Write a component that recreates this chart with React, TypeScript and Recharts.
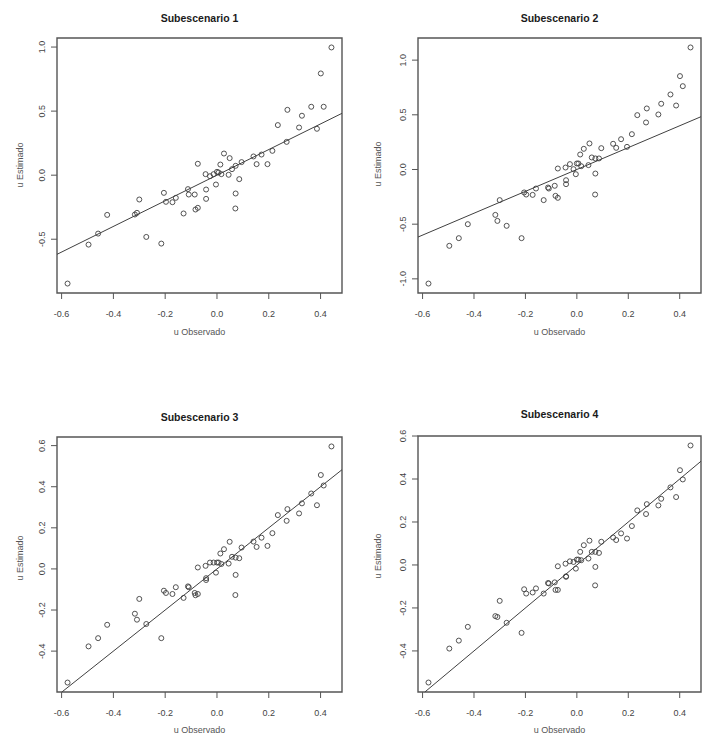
import { ReferenceArea, ReferenceLine, Scatter, ScatterChart, XAxis, YAxis } from 'recharts'

// observed values (shared by all four subscenarios)
const observado = [
  -0.577, -0.496, -0.459, -0.424, -0.317, -0.309, -0.3, -0.273, -0.215, -0.205,
  -0.197, -0.172, -0.159, -0.129, -0.112, -0.109, -0.086, -0.083, -0.074, -0.074,
  -0.042, -0.042, -0.044, -0.027, -0.013, -0.004, 0.0, 0.006, 0.013, 0.017,
  0.027, 0.045, 0.049, 0.058, 0.072, 0.072, 0.071, 0.086, 0.095, 0.141,
  0.153, 0.172, 0.195, 0.214, 0.235, 0.269, 0.272, 0.317, 0.328, 0.364,
  0.386, 0.401, 0.412, 0.442,
]

const estimado1 = [
  -0.846, -0.542, -0.456, -0.31, -0.307, -0.294, -0.19, -0.482, -0.534, -0.138,
  -0.208, -0.211, -0.177, -0.299, -0.109, -0.151, -0.151, -0.268, -0.255, 0.089,
  -0.112, -0.185, 0.008, -0.008, 0.008, -0.073, 0.026, 0.021, 0.083, 0.008,
  0.169, 0.003, 0.133, 0.047, 0.073, -0.143, -0.26, -0.031, 0.102, 0.146,
  0.086, 0.161, 0.086, 0.19, 0.391, 0.26, 0.51, 0.372, 0.464, 0.534,
  0.362, 0.794, 0.534, 0.997,
]

const estimado2 = [
  -1.043, -0.698, -0.628, -0.5, -0.415, -0.47, -0.28, -0.515, -0.628, -0.21,
  -0.229, -0.232, -0.174, -0.28, -0.165, -0.174, -0.149, -0.241, -0.259, 0.009,
  -0.098, -0.134, 0.018, 0.049, 0.003, -0.043, 0.055, 0.055, 0.137, 0.03,
  0.189, 0.04, 0.238, 0.11, 0.101, -0.037, -0.229, 0.101, 0.195, 0.235,
  0.198, 0.277, 0.207, 0.323, 0.497, 0.43, 0.558, 0.503, 0.601, 0.686,
  0.585, 0.854, 0.762, 1.116,
]

const estimado3 = [
  -0.553, -0.377, -0.337, -0.272, -0.218, -0.247, -0.146, -0.268, -0.337, -0.106,
  -0.117, -0.122, -0.089, -0.141, -0.085, -0.089, -0.117, -0.128, -0.122, 0.007,
  -0.054, -0.045, 0.015, 0.031, 0.031, -0.018, 0.031, 0.031, 0.075, 0.024,
  0.096, 0.026, 0.132, 0.059, 0.055, -0.029, -0.127, 0.052, 0.104, 0.133,
  0.107, 0.152, 0.112, 0.174, 0.262, 0.234, 0.291, 0.27, 0.319, 0.367,
  0.31, 0.457, 0.406, 0.596,
]

const estimado4 = [
  -0.547, -0.389, -0.352, -0.288, -0.238, -0.242, -0.167, -0.269, -0.316, -0.113,
  -0.133, -0.128, -0.109, -0.133, -0.084, -0.086, -0.081, -0.116, -0.116, -0.006,
  -0.053, -0.055, 0.006, 0.017, 0.014, -0.017, 0.025, 0.025, 0.061, 0.022,
  0.092, 0.03, 0.113, 0.061, 0.061, -0.009, -0.095, 0.056, 0.108, 0.128,
  0.116, 0.147, 0.123, 0.181, 0.254, 0.237, 0.283, 0.277, 0.308, 0.361,
  0.316, 0.441, 0.398, 0.556,
]

const xTicks = [-0.6, -0.4, -0.2, 0.0, 0.2, 0.4]
const yTicks1 = [-0.5, 0.0, 0.5, 1.0]
const yTicks2 = [-1.0, -0.5, 0.0, 0.5, 1.0]
const yTicks34 = [-0.4, -0.2, 0.0, 0.2, 0.4, 0.6]

const titles = ['Subescenario 1', 'Subescenario 2', 'Subescenario 3', 'Subescenario 4']
const xLabel = 'u Observado'
const yLabel = 'u Estimado'

const FONT = '"Liberation Sans", Arial, Helvetica, sans-serif'
const INK = '#404040'

// R-style range: data extent padded by 4% on each side
function padRange(vals: number[]): [number, number] {
  const lo = Math.min(...vals)
  const hi = Math.max(...vals)
  const d = (hi - lo) * 0.04
  return [lo - d, hi + d]
}

const fmt = (v: number) => v.toFixed(1)

function YTick(props: any) {
  const { x, y, payload } = props
  return (
    <text x={x} y={y} transform={`rotate(-90 ${x} ${y})`} textAnchor="middle" fontSize={9} fill="#444" fontFamily={FONT}>
      {fmt(payload.value)}
    </text>
  )
}

function Dot(props: any) {
  return <circle cx={props.cx} cy={props.cy} r={2.5} fill="none" stroke={INK} strokeWidth={0.9} />
}

type PanelProps = {
  left: number
  top: number
  width: number
  height: number
  mTop: number
  mRight: number
  yAxisW: number
  xAxisH: number
  title: string
  titleY: number
  yLabelX: number
  yLabelY: number
  xLabelY: number
  est: number[]
  yTicks: number[]
}

function Panel(p: PanelProps) {
  const data = observado.map((x, i) => ({ x, y: p.est[i] }))
  const xd = padRange(observado)
  const yd = padRange(p.est)
  // identity line, clipped to the plotting region
  const lo = Math.max(xd[0], yd[0])
  const hi = Math.min(xd[1], yd[1])
  const plotL = p.left + p.yAxisW
  const plotR = p.left + p.width - p.mRight
  const cx = (plotL + plotR) / 2

  return (
    <>
      <div style={{ position: 'absolute', left: p.left, top: p.top }}>
        <ScatterChart width={p.width} height={p.height} margin={{ top: p.mTop, right: p.mRight, bottom: 0, left: 0 }}>
          <XAxis
            type="number"
            dataKey="x"
            domain={xd}
            allowDataOverflow
            ticks={xTicks}
            interval={0}
            tickFormatter={fmt}
            height={p.xAxisH}
            axisLine={false}
            tickSize={6}
            tickMargin={12}
            tickLine={{ stroke: '#555' }}
            tick={{ fontSize: 9, fill: '#444', fontFamily: FONT }}
          />
          <YAxis
            type="number"
            dataKey="y"
            domain={yd}
            allowDataOverflow
            ticks={p.yTicks}
            interval={0}
            width={p.yAxisW}
            axisLine={false}
            tickSize={6}
            tickMargin={6}
            tickLine={{ stroke: '#555' }}
            tick={(t: any) => <YTick {...t} />}
          />
          <ReferenceArea x1={xd[0]} x2={xd[1]} y1={yd[0]} y2={yd[1]} fill="none" stroke="#555" strokeWidth={1.4} fillOpacity={0} />
          <ReferenceLine segment={[{ x: lo, y: lo }, { x: hi, y: hi }]} stroke={INK} strokeWidth={1} />
          <Scatter data={data} shape={(s: any) => <Dot {...s} />} isAnimationActive={false} />
        </ScatterChart>
      </div>
      <div style={{ position: 'absolute', left: cx - 100, width: 200, top: p.titleY - 7, lineHeight: '14px', textAlign: 'center', fontFamily: FONT, fontWeight: 'bold', fontSize: 10.5, color: '#1a1a1a' }}>
        {p.title}
      </div>
      <div style={{ position: 'absolute', left: cx - 100, width: 200, top: p.xLabelY - 6, lineHeight: '12px', textAlign: 'center', fontFamily: FONT, fontSize: 9, color: '#555' }}>
        {xLabel}
      </div>
      <div style={{ position: 'absolute', left: p.yLabelX, top: p.yLabelY, transform: 'translate(-50%, -50%) rotate(-90deg)', whiteSpace: 'nowrap', lineHeight: '12px', fontFamily: FONT, fontSize: 9, color: '#555' }}>
        {yLabel}
      </div>
    </>
  )
}

export default function App() {
  return (
    <div style={{ position: 'absolute', left: 0, top: 0, width: 716, height: 736, background: '#fff', overflow: 'hidden' }}>
      <Panel left={0} top={0} width={358} height={340} mTop={38} mRight={16} yAxisW={57} xAxisH={47}
        title={titles[0]} titleY={18} yLabelX={20} yLabelY={165} xLabelY={332} est={estimado1} yTicks={yTicks1} />
      <Panel left={358} top={0} width={358} height={340} mTop={38} mRight={15} yAxisW={60} xAxisH={47}
        title={titles[1]} titleY={18} yLabelX={378} yLabelY={164} xLabelY={332} est={estimado2} yTicks={yTicks2} />
      <Panel left={0} top={370} width={358} height={366} mTop={67} mRight={16} yAxisW={57} xAxisH={44}
        title={titles[2]} titleY={417} yLabelX={20} yLabelY={558} xLabelY={730} est={estimado3} yTicks={yTicks34} />
      <Panel left={358} top={370} width={358} height={366} mTop={66} mRight={15} yAxisW={60} xAxisH={44}
        title={titles[3]} titleY={414} yLabelX={378} yLabelY={556} xLabelY={730} est={estimado4} yTicks={yTicks34} />
    </div>
  )
}
